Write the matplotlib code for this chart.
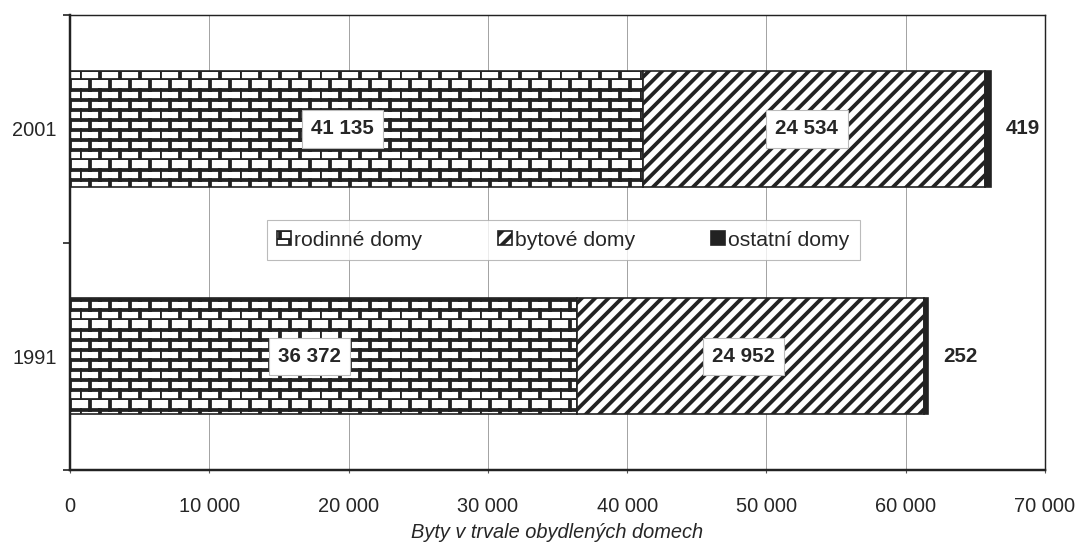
import numpy as np
import matplotlib
matplotlib.use("Agg")
import matplotlib.pyplot as plt
import matplotlib.hatch as mhatch
from matplotlib.path import Path

years = ["1991", "2001"]
rodinne = [36372, 41135]
bytove = [24952, 24534]
ostatni = [252, 419]
series_names = ["rodinné domy", "bytové domy", "ostatní domy"]
x_ticks = [0, 10000, 20000, 30000, 40000, 50000, 60000, 70000]
x_label = "Byty v trvale obydlených domech"


def fmt(v):
    return f"{v:,}".replace(",", " ")


# brick pattern for '+' (replaces the plain cross hatch)
class BrickHatch(mhatch.HatchPatternBase):
    rows = 8
    cols = 4

    def __init__(self, hatch, density):
        self.on = "+" in hatch
        n = self.rows + self.rows * self.cols
        self.num_vertices = n * 2 if self.on else 0

    def set_vertices_and_codes(self, vertices, codes):
        k = 0
        for i in range(self.rows):
            y = i / self.rows
            vertices[k] = (0.0, y)
            vertices[k + 1] = (1.0, y)
            k += 2
        for i in range(self.rows):
            y0 = i / self.rows
            y1 = (i + 1) / self.rows
            shift = 0.5 * (i % 2)
            for j in range(self.cols):
                x = ((j + shift) / self.cols) % 1.0
                vertices[k] = (x, y0)
                vertices[k + 1] = (x, y1)
                k += 2
        codes[0::2] = Path.MOVETO
        codes[1::2] = Path.LINETO


mhatch._hatch_types = [BrickHatch, mhatch.NorthEastHatch, mhatch.SouthEastHatch,
                       mhatch.SmallCircles, mhatch.LargeCircles,
                       mhatch.SmallFilledCircles, mhatch.Stars]

plt.rcParams["font.family"] = ["Liberation Sans", "DejaVu Sans"]
plt.rcParams["hatch.linewidth"] = 3.4
plt.rcParams["hatch.color"] = "#222222"

fig = plt.figure(figsize=(1078 / 80, 545 / 80), dpi=80)
ax = fig.add_axes([70 / 1078, 75 / 545, 975 / 1078, 455 / 545])

y = np.arange(len(years))
h = 0.51
dark = "#222222"
txt = "#262626"

left2 = np.array(rodinne)
left3 = left2 + np.array(bytove)
b1 = ax.barh(y, rodinne, h, color="white", edgecolor=dark, hatch="+",
             linewidth=1.5, label=series_names[0], zorder=2)
b2 = ax.barh(y, bytove, h, left=left2, color="white", edgecolor=dark,
             hatch="//", linewidth=1.5, label=series_names[1], zorder=2)
b3 = ax.barh(y, ostatni, h, left=left3, color=dark, edgecolor=dark,
             linewidth=1.5, label=series_names[2], zorder=2)

box = dict(boxstyle="square,pad=0.45", fc="white", ec="#bbbbbb", lw=1)
for i in range(len(years)):
    ax.text(rodinne[i] / 2 - 1000, y[i], fmt(rodinne[i]), ha="center", va="center",
            fontsize=18.5, fontweight="bold", color=txt, bbox=box, zorder=4)
    ax.text(left2[i] + bytove[i] / 2 - 500, y[i], fmt(bytove[i]), ha="center",
            va="center", fontsize=18.5, fontweight="bold", color=txt,
            bbox=box, zorder=4)
    ax.annotate(fmt(ostatni[i]), (left3[i] + ostatni[i], y[i]), xytext=(14, 0),
                textcoords="offset points", ha="left", va="center",
                fontsize=18.5, fontweight="bold", color=txt, zorder=4)

ax.set_xlim(0, 70000)
ax.set_ylim(-0.5, 1.5)
ax.set_xticks(x_ticks)
ax.set_xticklabels([fmt(v) for v in x_ticks], fontsize=18, color=txt)
ax.set_yticks(y)
ax.set_yticklabels(years, fontsize=18, color=txt)
ax.tick_params(axis="y", length=0, pad=12)
ax.set_yticks([-0.5, 0.5, 1.5], minor=True)
ax.tick_params(axis="y", which="minor", length=6, width=1.5, color=dark)
ax.tick_params(axis="x", length=3, width=1, color="#555555", pad=21)

ax.grid(axis="x", color="#999999", linewidth=0.8, zorder=0)
ax.set_axisbelow(True)
for side in ["left", "bottom"]:
    ax.spines[side].set_linewidth(2.2)
    ax.spines[side].set_color(dark)
for side in ["top", "right"]:
    ax.spines[side].set_linewidth(1.3)
    ax.spines[side].set_color(dark)

ax.set_xlabel(x_label, fontsize=18, style="italic", color=txt, labelpad=7)

leg = ax.legend(loc="center", bbox_to_anchor=(0.506, 0.505), ncol=3,
                fontsize=19, frameon=True, fancybox=False, edgecolor="#aaaaaa",
                handlelength=0.65, handleheight=0.65, handletextpad=0.15,
                columnspacing=3.6, borderpad=0.5)
leg.get_frame().set_linewidth(1.0)
for t in leg.get_texts():
    t.set_color(txt)

fig.savefig("out.png", dpi=80)
